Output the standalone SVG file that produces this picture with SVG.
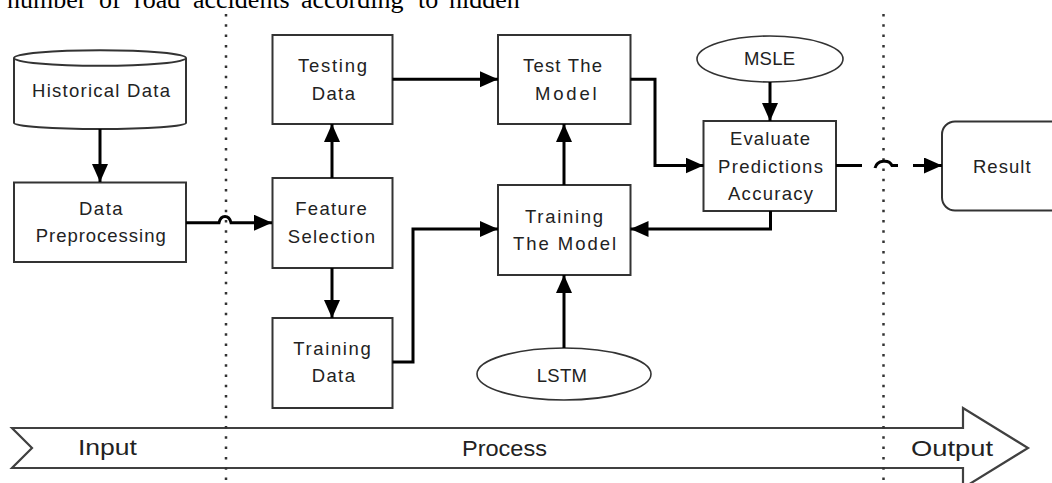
<svg xmlns="http://www.w3.org/2000/svg" width="1052" height="483" viewBox="0 0 1052 483">
<defs>
<style>
.box{fill:#fff;stroke:#333;stroke-width:2}
.ell{fill:#fff;stroke:#333;stroke-width:1.6}
.t{font-family:"Liberation Sans",Arial,sans-serif;font-size:18.5px;fill:#222;text-anchor:middle}
.b{font-family:"Liberation Sans",Arial,sans-serif;font-size:22px;fill:#222;text-anchor:middle}
.c{fill:none;stroke:#000;stroke-width:3}
.dot{fill:none;stroke:#333;stroke-width:2.5;stroke-dasharray:2.5 7.8}
.band{fill:#fff;stroke:#404040;stroke-width:2.2;stroke-linejoin:miter}
</style>
<marker id="ah" markerUnits="userSpaceOnUse" markerWidth="19" markerHeight="17" refX="18" refY="8" orient="auto">
<path d="M0,0 L18,8 L0,16 Z" fill="#000"/>
</marker>
</defs>
<rect width="1052" height="483" fill="#fff"/>
<text font-family="'Liberation Serif','Times New Roman',serif" font-size="26" fill="#000" y="7.5"><tspan x="7">number</tspan><tspan x="99">of</tspan><tspan x="134">road</tspan><tspan x="193">accidents</tspan><tspan x="301">according</tspan><tspan x="418">to</tspan><tspan x="449">hidden</tspan></text>

<g id="band">
<path class="band" d="M12,428 L963,428 L963,408 L1028,448 L963,488 L963,468 L12,468 L32,448 Z"/>
<text class="b" x="107.5" y="455" textLength="59" lengthAdjust="spacingAndGlyphs">Input</text>
<text class="b" x="504.5" y="456" textLength="85" lengthAdjust="spacingAndGlyphs">Process</text>
<text class="b" x="952" y="455.7" textLength="82" lengthAdjust="spacingAndGlyphs">Output</text>
</g>

<g id="dividers">
<line class="dot" x1="226" y1="14" x2="226" y2="483"/>
<line class="dot" x1="883.5" y1="14" x2="883.5" y2="483"/>
</g>

<g id="historical-data">
<path class="box" d="M14,58 L14,123 A86,6 0 0 0 186,123 L186,58"/>
<ellipse class="box" cx="100" cy="58" rx="86" ry="7.8"/>
<text class="t" x="101" y="97" textLength="138" lengthAdjust="spacing">Historical Data</text>
</g>

<g id="data-preprocessing">
<rect class="box" x="14" y="182.5" width="172" height="79.5"/>
<text class="t" x="100.8" y="215" textLength="43.7" lengthAdjust="spacing">Data</text>
<text class="t" x="100.7" y="242" textLength="130" lengthAdjust="spacing">Preprocessing</text>
</g>

<g id="testing-data">
<rect class="box" x="272.5" y="35" width="120" height="89"/>
<text class="t" x="332.5" y="72" textLength="69" lengthAdjust="spacing">Testing</text>
<text class="t" x="333.3" y="100" textLength="43.3" lengthAdjust="spacing">Data</text>
</g>

<g id="feature-selection">
<rect class="box" x="272.5" y="178" width="120" height="90"/>
<text class="t" x="331" y="215" textLength="71.7" lengthAdjust="spacing">Feature</text>
<text class="t" x="331.3" y="243" textLength="87.3" lengthAdjust="spacing">Selection</text>
</g>

<g id="training-data">
<rect class="box" x="272.5" y="318" width="120" height="90"/>
<text class="t" x="332" y="355" textLength="77.7" lengthAdjust="spacing">Training</text>
<text class="t" x="333.3" y="381.7" textLength="43.3" lengthAdjust="spacing">Data</text>
</g>

<g id="test-the-model">
<rect class="box" x="498" y="35" width="132.5" height="89"/>
<text class="t" x="562.5" y="72" textLength="79" lengthAdjust="spacing">Test The</text>
<text class="t" x="565.8" y="100" textLength="61.7" lengthAdjust="spacing">Model</text>
</g>

<g id="training-the-model">
<rect class="box" x="498" y="185" width="132.5" height="90"/>
<text class="t" x="564" y="222.7" textLength="78" lengthAdjust="spacing">Training</text>
<text class="t" x="564.5" y="250" textLength="103" lengthAdjust="spacing">The Model</text>
</g>

<g id="lstm">
<ellipse class="ell" cx="564" cy="374" rx="87" ry="26"/>
<text class="t" x="561.8" y="381.7" textLength="50.3" lengthAdjust="spacing">LSTM</text>
</g>

<g id="msle">
<ellipse class="ell" cx="770" cy="59" rx="73" ry="23"/>
<text class="t" x="769.5" y="65" textLength="51" lengthAdjust="spacing">MSLE</text>
</g>

<g id="evaluate">
<rect class="box" x="703.5" y="121" width="132.5" height="90"/>
<text class="t" x="770" y="145" textLength="80" lengthAdjust="spacing">Evaluate</text>
<text class="t" x="770.5" y="172.7" textLength="105" lengthAdjust="spacing">Predictions</text>
<text class="t" x="770.5" y="200" textLength="85" lengthAdjust="spacing">Accuracy</text>
</g>

<g id="result">
<rect class="box" x="942" y="121.5" width="140" height="89" rx="13"/>
<text class="t" x="1001.8" y="172.7" textLength="57.7" lengthAdjust="spacing">Result</text>
</g>

<g id="connectors">
<path class="c" d="M100,129 L100,182" marker-end="url(#ah)"/>
<path class="c" d="M186,222.7 L219,222.7 C221,214.5 229,214.5 231,222.7 L272,222.7" marker-end="url(#ah)"/>
<path class="c" d="M332,178 L332,124" marker-end="url(#ah)"/>
<path class="c" d="M332,268 L332,318" marker-end="url(#ah)"/>
<path class="c" d="M392.5,362 L413,362 L413,229 L498,229" marker-end="url(#ah)"/>
<path class="c" d="M392.5,79.3 L498,79.3" marker-end="url(#ah)"/>
<path class="c" d="M564,185 L564,124" marker-end="url(#ah)"/>
<path class="c" d="M564,348 L564,275" marker-end="url(#ah)"/>
<path class="c" d="M630.5,79.3 L655,79.3 L655,165.5 L703.5,165.5" marker-end="url(#ah)"/>
<path class="c" d="M770,82 L770,121" marker-end="url(#ah)"/>
<path class="c" d="M770.5,211 L770.5,229 L630.5,229" marker-end="url(#ah)"/>
<path class="c" d="M836,165.5 L862,165.5"/>
<path class="c" d="M875,168 C877,160 889,159 892,165.5 L898,165.5"/>
<path class="c" d="M913,165.5 L942,165.5" marker-end="url(#ah)"/>
</g>
</svg>
